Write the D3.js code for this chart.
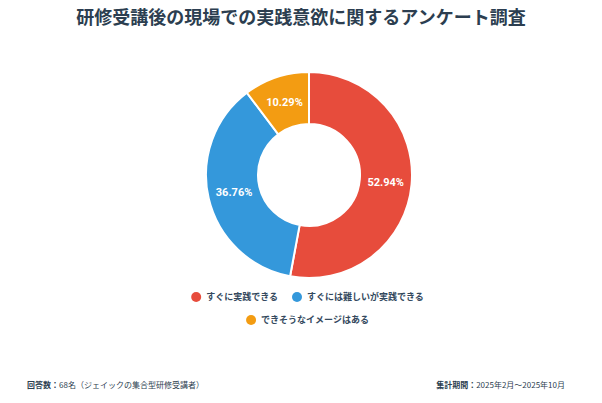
<!DOCTYPE html>
<html>
<head>
<meta charset="utf-8">
<script src="https://cdn.jsdelivr.net/npm/d3@7"></script>
<style>
  body { margin: 0; background: #fff; }
  svg { display: block; font-family: "Noto Sans CJK JP", "Noto Sans", sans-serif; }
</style>
</head>
<body>
<div id="chart"></div>
<script>
const categories = ['すぐに実践できる', 'すぐには難しいが実践できる', 'できそうなイメージはある'];
const counts = [36, 25, 7];
const colors = ['#e74c3c', '#3498db', '#f39c12'];
const title = '研修受講後の現場での実践意欲に関するアンケート調査';
const noteLeft = ['回答数：', '68名（ジェイックの集合型研修受講者）'];
const noteRight = ['集計期間：', '2025年2月～2025年10月'];

const W = 602, H = 403;
const CX = 309, CY = 175, R = 103, R_IN = 51;

const svg = d3.select('#chart').append('svg')
  .attr('width', W)
  .attr('height', H);

svg.append('text')
  .attr('x', W / 2)
  .attr('y', 24)
  .attr('text-anchor', 'middle')
  .attr('font-size', 18)
  .attr('font-weight', 'bold')
  .attr('fill', '#2c3e50')
  .text(title);

const total = d3.sum(counts);
const data = categories.map((c, i) => ({ name: c, value: counts[i], color: colors[i] }));

const pie = d3.pie().value(d => d.value).sort(null);
const arc = d3.arc().innerRadius(R_IN).outerRadius(R);
const labelArc = d3.arc().innerRadius((R + R_IN) / 2).outerRadius((R + R_IN) / 2);

const g = svg.append('g').attr('transform', `translate(${CX}, ${CY})`);
const arcs = pie(data);

g.selectAll('path')
  .data(arcs)
  .enter().append('path')
  .attr('d', arc)
  .attr('fill', d => d.data.color)
  .attr('stroke', '#fff')
  .attr('stroke-width', 2);

g.selectAll('text')
  .data(arcs)
  .enter().append('text')
  .attr('transform', d => `translate(${labelArc.centroid(d)})`)
  .attr('text-anchor', 'middle')
  .attr('dy', '0.35em')
  .attr('font-family', 'Roboto, sans-serif')
  .attr('font-size', 11)
  .attr('font-weight', 'bold')
  .attr('fill', '#fff')
  .text(d => (d.data.value / total * 100).toFixed(2) + '%');

// legend: two items on first row, one on second
const legendRows = [[0, 1], [2]];
const legend = svg.append('g').attr('font-size', 9).attr('font-weight', 'bold').attr('fill', '#34495e');
const gap = 14;
legendRows.forEach((row, ri) => {
  const y = 297 + ri * 23;
  const items = row.map(i => {
    const t = legend.append('text').attr('y', y).attr('dy', '0.35em').text(categories[i]);
    return { i, t, w: t.node().getComputedTextLength() + 15 };
  });
  const totalW = d3.sum(items, d => d.w) + gap * (items.length - 1);
  let x = W / 2 + 6.5 - totalW / 2;
  items.forEach(it => {
    legend.append('circle')
      .attr('cx', x + 5)
      .attr('cy', y)
      .attr('r', 5)
      .attr('fill', colors[it.i]);
    it.t.attr('x', x + 15);
    x += it.w + gap;
  });
});

const footL = svg.append('text').attr('x', 27).attr('y', 388).attr('font-size', 8).attr('fill', '#2c3e50');
footL.append('tspan').attr('font-weight', 'bold').text(noteLeft[0]);
footL.append('tspan').text(noteLeft[1]);

const footR = svg.append('text').attr('x', 565).attr('y', 388).attr('text-anchor', 'end').attr('font-size', 8).attr('fill', '#2c3e50');
footR.append('tspan').attr('font-weight', 'bold').text(noteRight[0]);
footR.append('tspan').text(noteRight[1]);
</script>
</body>
</html>
